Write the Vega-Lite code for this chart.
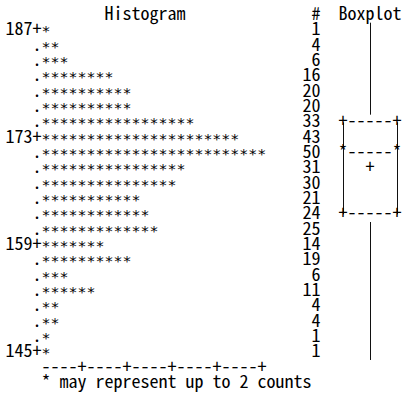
{
  "$schema": "https://vega.github.io/schema/vega-lite/v6.json",
  "width": 404,
  "height": 400,
  "autosize": {"type": "none"},
  "padding": 0,
  "background": "white",
  "config": {
    "view": {"stroke": null},
    "text": {"font": "Noto Sans Mono CJK JP, DejaVu Sans Mono, monospace", "fontSize": 18, "color": "black", "baseline": "middle"}
  },
  "datasets": {
    "rows": [
      {"value": 187, "label": "187+", "bar": "*", "count": 1},
      {"value": 185, "label": ".", "bar": "**", "count": 4},
      {"value": 183, "label": ".", "bar": "***", "count": 6},
      {"value": 181, "label": ".", "bar": "********", "count": 16},
      {"value": 179, "label": ".", "bar": "**********", "count": 20},
      {"value": 177, "label": ".", "bar": "**********", "count": 20},
      {"value": 175, "label": ".", "bar": "*****************", "count": 33},
      {"value": 173, "label": "173+", "bar": "**********************", "count": 43},
      {"value": 171, "label": ".", "bar": "*************************", "count": 50},
      {"value": 169, "label": ".", "bar": "****************", "count": 31},
      {"value": 167, "label": ".", "bar": "***************", "count": 30},
      {"value": 165, "label": ".", "bar": "***********", "count": 21},
      {"value": 163, "label": ".", "bar": "************", "count": 24},
      {"value": 161, "label": ".", "bar": "*************", "count": 25},
      {"value": 159, "label": "159+", "bar": "*******", "count": 14},
      {"value": 157, "label": ".", "bar": "**********", "count": 19},
      {"value": 155, "label": ".", "bar": "***", "count": 6},
      {"value": 153, "label": ".", "bar": "******", "count": 11},
      {"value": 151, "label": ".", "bar": "**", "count": 4},
      {"value": 149, "label": ".", "bar": "**", "count": 4},
      {"value": 147, "label": ".", "bar": "*", "count": 1},
      {"value": 145, "label": "145+", "bar": "*", "count": 1}
    ],
    "box": [
      {"min": 145, "q1": 163, "median": 171, "mean": 169, "q3": 175, "max": 187}
    ],
    "notes": [
      {"note": "Histogram"},
      {"note": "#"},
      {"note": "Boxplot"},
      {"note": "----+----+----+----+----+"},
      {"note": "* may represent up to 2 counts"}
    ]
  },
  "data": {"name": "rows"},
  "layer": [
    {
      "mark": {"type": "text", "align": "right"},
      "encoding": {
        "x": {"datum": 4, "type": "quantitative", "scale": {"domain": [-0.6111, 44.2778], "nice": false, "zero": false}, "axis": null},
        "y": {"field": "value", "type": "quantitative", "scale": {"domain": [138.78, 190.96], "nice": false, "zero": false}, "axis": null},
        "text": {"field": "label"}
      }
    },
    {
      "mark": {"type": "text", "align": "left", "font": "DejaVu Sans Mono", "fontSize": 14.95, "dy": 2},
      "encoding": {
        "x": {"datum": 4, "type": "quantitative", "scale": {"domain": [-0.6111, 44.2778], "nice": false, "zero": false}, "axis": null},
        "y": {"field": "value", "type": "quantitative", "scale": {"domain": [138.78, 190.96], "nice": false, "zero": false}, "axis": null},
        "text": {"field": "bar"}
      }
    },
    {
      "mark": {"type": "text", "align": "right"},
      "encoding": {
        "x": {"datum": 35, "type": "quantitative", "scale": {"domain": [-0.6111, 44.2778], "nice": false, "zero": false}, "axis": null},
        "y": {"field": "value", "type": "quantitative", "scale": {"domain": [138.78, 190.96], "nice": false, "zero": false}, "axis": null},
        "text": {"field": "count"}
      }
    },
    {
      "data": {"name": "box"},
      "mark": {"type": "rule", "color": "#111111", "strokeWidth": 1, "yOffset": -7.67, "y2Offset": -7.67},
      "encoding": {
        "x": {"datum": 40.5556, "type": "quantitative", "scale": {"domain": [-0.6111, 44.2778], "nice": false, "zero": false}, "axis": null},
        "y": {"field": "max", "type": "quantitative", "scale": {"domain": [138.78, 190.96], "nice": false, "zero": false}, "axis": null},
        "y2": {"field": "q3"}
      }
    },
    {
      "data": {"name": "box"},
      "mark": {"type": "rule", "color": "#111111", "strokeWidth": 1, "yOffset": 7.67, "y2Offset": 7.67},
      "encoding": {
        "x": {"datum": 40.5556, "type": "quantitative", "scale": {"domain": [-0.6111, 44.2778], "nice": false, "zero": false}, "axis": null},
        "y": {"field": "q1", "type": "quantitative", "scale": {"domain": [138.78, 190.96], "nice": false, "zero": false}, "axis": null},
        "y2": {"field": "min"}
      }
    },
    {
      "data": {"name": "box"},
      "mark": {"type": "rule", "color": "#111111", "strokeWidth": 1},
      "encoding": {
        "x": {"datum": 37.5556, "type": "quantitative", "scale": {"domain": [-0.6111, 44.2778], "nice": false, "zero": false}, "axis": null},
        "y": {"field": "q3", "type": "quantitative", "scale": {"domain": [138.78, 190.96], "nice": false, "zero": false}, "axis": null},
        "y2": {"field": "q1"}
      }
    },
    {
      "data": {"name": "box"},
      "mark": {"type": "rule", "color": "#111111", "strokeWidth": 1},
      "encoding": {
        "x": {"datum": 43.5556, "type": "quantitative", "scale": {"domain": [-0.6111, 44.2778], "nice": false, "zero": false}, "axis": null},
        "y": {"field": "q3", "type": "quantitative", "scale": {"domain": [138.78, 190.96], "nice": false, "zero": false}, "axis": null},
        "y2": {"field": "q1"}
      }
    },
    {
      "data": {"name": "box"},
      "mark": {"type": "text", "align": "center", "text": "+-----+"},
      "encoding": {
        "x": {"datum": 40.5, "type": "quantitative", "scale": {"domain": [-0.6111, 44.2778], "nice": false, "zero": false}, "axis": null},
        "y": {"field": "q3", "type": "quantitative", "scale": {"domain": [138.78, 190.96], "nice": false, "zero": false}, "axis": null}
      }
    },
    {
      "data": {"name": "box"},
      "mark": {"type": "text", "align": "center", "text": "+-----+"},
      "encoding": {
        "x": {"datum": 40.5, "type": "quantitative", "scale": {"domain": [-0.6111, 44.2778], "nice": false, "zero": false}, "axis": null},
        "y": {"field": "q1", "type": "quantitative", "scale": {"domain": [138.78, 190.96], "nice": false, "zero": false}, "axis": null}
      }
    },
    {
      "data": {"name": "box"},
      "mark": {"type": "text", "align": "center", "text": "*-----*"},
      "encoding": {
        "x": {"datum": 40.5, "type": "quantitative", "scale": {"domain": [-0.6111, 44.2778], "nice": false, "zero": false}, "axis": null},
        "y": {"field": "median", "type": "quantitative", "scale": {"domain": [138.78, 190.96], "nice": false, "zero": false}, "axis": null}
      }
    },
    {
      "data": {"name": "box"},
      "mark": {"type": "text", "align": "center", "text": "+"},
      "encoding": {
        "x": {"datum": 40.5, "type": "quantitative", "scale": {"domain": [-0.6111, 44.2778], "nice": false, "zero": false}, "axis": null},
        "y": {"field": "mean", "type": "quantitative", "scale": {"domain": [138.78, 190.96], "nice": false, "zero": false}, "axis": null}
      }
    },
    {
      "data": {"name": "notes"},
      "transform": [{"filter": "datum.note === 'Histogram'"}],
      "mark": {"type": "text", "align": "left"},
      "encoding": {
        "x": {"datum": 11, "type": "quantitative", "scale": {"domain": [-0.6111, 44.2778], "nice": false, "zero": false}, "axis": null},
        "y": {"datum": 189, "type": "quantitative", "scale": {"domain": [138.78, 190.96], "nice": false, "zero": false}, "axis": null},
        "text": {"field": "note"}
      }
    },
    {
      "data": {"name": "notes"},
      "transform": [{"filter": "datum.note === '#'"}],
      "mark": {"type": "text", "align": "left"},
      "encoding": {
        "x": {"datum": 34, "type": "quantitative", "scale": {"domain": [-0.6111, 44.2778], "nice": false, "zero": false}, "axis": null},
        "y": {"datum": 189, "type": "quantitative", "scale": {"domain": [138.78, 190.96], "nice": false, "zero": false}, "axis": null},
        "text": {"field": "note"}
      }
    },
    {
      "data": {"name": "notes"},
      "transform": [{"filter": "datum.note === 'Boxplot'"}],
      "mark": {"type": "text", "align": "left"},
      "encoding": {
        "x": {"datum": 37, "type": "quantitative", "scale": {"domain": [-0.6111, 44.2778], "nice": false, "zero": false}, "axis": null},
        "y": {"datum": 189, "type": "quantitative", "scale": {"domain": [138.78, 190.96], "nice": false, "zero": false}, "axis": null},
        "text": {"field": "note"}
      }
    },
    {
      "data": {"name": "notes"},
      "transform": [{"filter": "indexof(datum.note, '----') === 0"}],
      "mark": {"type": "text", "align": "left"},
      "encoding": {
        "x": {"datum": 4, "type": "quantitative", "scale": {"domain": [-0.6111, 44.2778], "nice": false, "zero": false}, "axis": null},
        "y": {"datum": 143, "type": "quantitative", "scale": {"domain": [138.78, 190.96], "nice": false, "zero": false}, "axis": null},
        "text": {"field": "note"}
      }
    },
    {
      "data": {"name": "notes"},
      "transform": [{"filter": "indexof(datum.note, 'may') > 0"}],
      "mark": {"type": "text", "align": "left"},
      "encoding": {
        "x": {"datum": 4, "type": "quantitative", "scale": {"domain": [-0.6111, 44.2778], "nice": false, "zero": false}, "axis": null},
        "y": {"datum": 141, "type": "quantitative", "scale": {"domain": [138.78, 190.96], "nice": false, "zero": false}, "axis": null},
        "text": {"field": "note"}
      }
    }
  ]
}
